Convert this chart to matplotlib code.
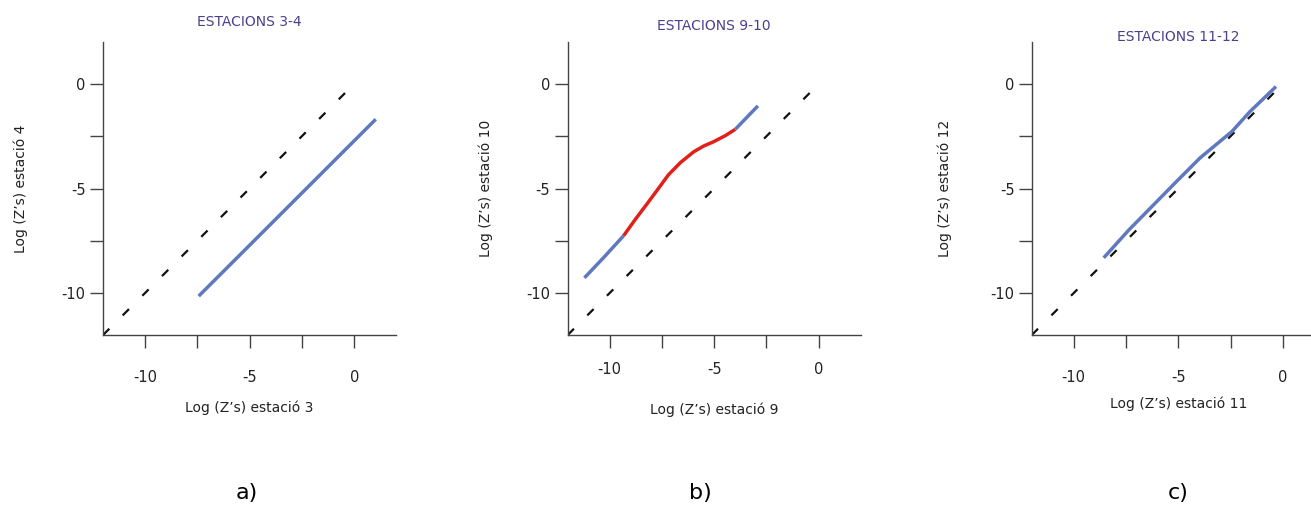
import matplotlib
matplotlib.use("Agg")
from matplotlib import pyplot as plt

# Q-Q curves of log(Z's) between station pairs
titles = ["ESTACIONS 3-4", "ESTACIONS 9-10", "ESTACIONS 11-12"]
xlabels = ["Log (Z\u2019s) estació 3", "Log (Z\u2019s) estació 9", "Log (Z\u2019s) estació 11"]
ylabels = ["Log (Z\u2019s) estació 4", "Log (Z\u2019s) estació 10", "Log (Z\u2019s) estació 12"]
letters = ["a)", "b)", "c)"]

# panel a
x_34 = [-7.43, 1.03]
y_34 = [-10.14, -1.69]

# panel b: blue tail, red middle, blue head
x_910_lo = [-11.2, -10.3, -9.33]
y_910_lo = [-9.27, -8.32, -7.26]
x_910_mid = [-9.33, -8.75, -8.19, -7.65, -7.19, -6.6, -5.97, -5.5, -5.02, -4.46, -3.99]
y_910_mid = [-7.26, -6.45, -5.71, -4.98, -4.35, -3.75, -3.24, -2.97, -2.76, -2.47, -2.17]
x_910_hi = [-3.99, -2.91]
y_910_hi = [-2.17, -1.05]

# panel c
x_1112 = [-8.56, -7.37, -6.2, -5.01, -3.95, -2.44, -1.57, -0.33]
y_1112 = [-8.31, -6.99, -5.8, -4.59, -3.53, -2.28, -1.32, -0.13]

# 1:1 reference line ends
diag_end = [-0.33, -0.41, -0.35]

blue = "#5F78BE"
red = "#E0201A"
title_col = "#4A3F8E"

fig = plt.figure(figsize=(13.11, 5.26), dpi=100)
lefts = [0.0786, 0.4330, 0.787]
title_y = [2.6, 2.45, 1.9]
xpads = [16, 10, 16]
xlabpads = [11, 18, 8]
ylabpads = [24, 24, 28]
axes = []
for i in range(3):
    ax = fig.add_axes([lefts[i], 0.3631, 0.2235, 0.557])
    ax.set_xlim(-12, 2)
    ax.set_ylim(-12, 2)
    for s in ["top", "right"]:
        ax.spines[s].set_visible(False)
    for s in ["left", "bottom"]:
        ax.spines[s].set_color("#444444")
        ax.spines[s].set_linewidth(1.0)
    ax.set_xticks([-10, -7.5, -5, -2.5, 0])
    ax.set_xticklabels(["-10", "", "-5", "", "0"])
    ax.set_yticks([-10, -7.5, -5, -2.5, 0])
    ax.set_yticklabels(["-10", "", "-5", "", "0"])
    ax.tick_params(axis="x", direction="out", length=9.5, width=1.0, color="#444444",
                   pad=xpads[i], labelsize=10.5, labelcolor="#222222")
    ax.tick_params(axis="y", direction="out", length=9.5, width=1.0, color="#444444",
                   pad=3, labelsize=10.5, labelcolor="#222222")
    ax.plot([-12, diag_end[i]], [-12, diag_end[i]], color="#111111", lw=1.6,
            dashes=(4, 8.5), zorder=2)
    ax.text(-5, title_y[i], titles[i], color=title_col, fontsize=10, ha="center", va="bottom")
    ax.set_xlabel(xlabels[i], fontsize=10, labelpad=xlabpads[i], color="#222222")
    ax.set_ylabel(ylabels[i], fontsize=10, labelpad=ylabpads[i], color="#222222")
    axes.append(ax)

axes[0].plot(x_34, y_34, color=blue, lw=2.5, solid_capstyle="butt", zorder=3)
axes[1].plot(x_910_lo, y_910_lo, color=blue, lw=2.5, solid_capstyle="butt", zorder=3)
axes[1].plot(x_910_mid, y_910_mid, color=red, lw=2.5, solid_capstyle="butt", zorder=3)
axes[1].plot(x_910_hi, y_910_hi, color=blue, lw=2.5, solid_capstyle="butt", zorder=3)
axes[2].plot(x_1112, y_1112, color=blue, lw=2.5, solid_capstyle="butt", zorder=3)

letter_x = [247, 700, 1178]
for lx, lt in zip(letter_x, letters):
    fig.text(lx / 1311, 1 - 493 / 526, lt, fontsize=16, ha="center", va="center")

fig.savefig("out.png", dpi=100)
